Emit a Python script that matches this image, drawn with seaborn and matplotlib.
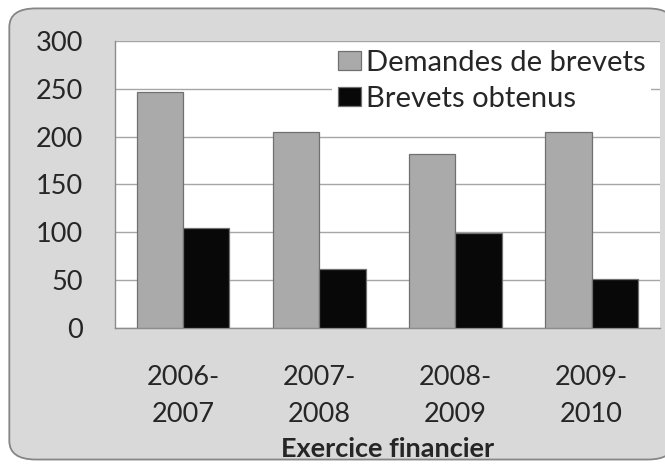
import matplotlib
matplotlib.use("Agg")
import matplotlib.pyplot as plt
from matplotlib.patches import FancyBboxPatch
import pandas as pd
import seaborn as sns

# values
exercices = ["2006-\n2007", "2007-\n2008", "2008-\n2009", "2009-\n2010"]
demandes = [247, 205, 182, 205]
obtenus = [104, 62, 99, 51]
series = ["Demandes de brevets", "Brevets obtenus"]

df = pd.DataFrame({
    "exercice": exercices * 2,
    "valeur": demandes + obtenus,
    "serie": [series[0]] * 4 + [series[1]] * 4,
})

sns.set_style("white")
plt.rcParams["font.family"] = ["Lato", "DejaVu Sans"]

fig = plt.figure(figsize=(6.65, 4.67), dpi=100)
fig.patch.set_facecolor("white")

# rounded grey chart area, kept behind the axes
frame = FancyBboxPatch((0.014, 0.016), 1.0, 0.966,
                       boxstyle="round,pad=0,rounding_size=0.04",
                       transform=fig.transFigure, facecolor="#d9d9d9",
                       edgecolor="#868686", linewidth=1.3, zorder=-5)
fig.patches.append(frame)

ax = fig.add_axes([0.173, 0.298, 0.819, 0.614])
ax.set_zorder(2)
ax.set_facecolor("white")

sns.barplot(data=df, x="exercice", y="valeur", hue="serie", ax=ax,
            palette=["#aaaaaa", "#080808"], width=0.68, saturation=1,
            edgecolor="#707070", linewidth=0.9, zorder=3)

ax.set_ylim(0, 300)
ax.set_xlim(-0.5, 3.5)
ax.set_yticks(range(0, 301, 50))
ax.yaxis.grid(True, color="#a6a6a6", linewidth=1.0, zorder=0)
ax.set_axisbelow(True)

for s in ["top", "right"]:
    ax.spines[s].set_visible(False)
for s in ["left", "bottom"]:
    ax.spines[s].set_color("#8c8c8c")
    ax.spines[s].set_linewidth(1.0)

ax.tick_params(axis="y", length=9, color="#8c8c8c", labelsize=19.5, pad=14)
ax.tick_params(axis="x", which="major", length=0, labelsize=19.5, pad=27)
ax.set_xticks([-0.5, 0.5, 1.5, 2.5, 3.5], minor=True)
ax.tick_params(axis="x", which="minor", length=8, color="#8c8c8c")
for lab in ax.get_xticklabels():
    lab.set_linespacing(1.58)

ax.set_ylabel("")
ax.set_xlabel("Exercice financier", fontsize=19.5, fontweight="bold")
ax.xaxis.label.set_va("baseline")
ax.xaxis.set_label_coords(0.5, -0.45)

leg = ax.legend(loc="upper right", bbox_to_anchor=(0.99, 1.0), fontsize=21,
                frameon=True, fancybox=False, framealpha=1, edgecolor="white",
                handlelength=0.8, handleheight=0.62, handletextpad=0.17,
                labelspacing=0.35, borderpad=0.2, borderaxespad=0.1)
leg.get_frame().set_linewidth(0)

fig.savefig("out.png", dpi=100)
